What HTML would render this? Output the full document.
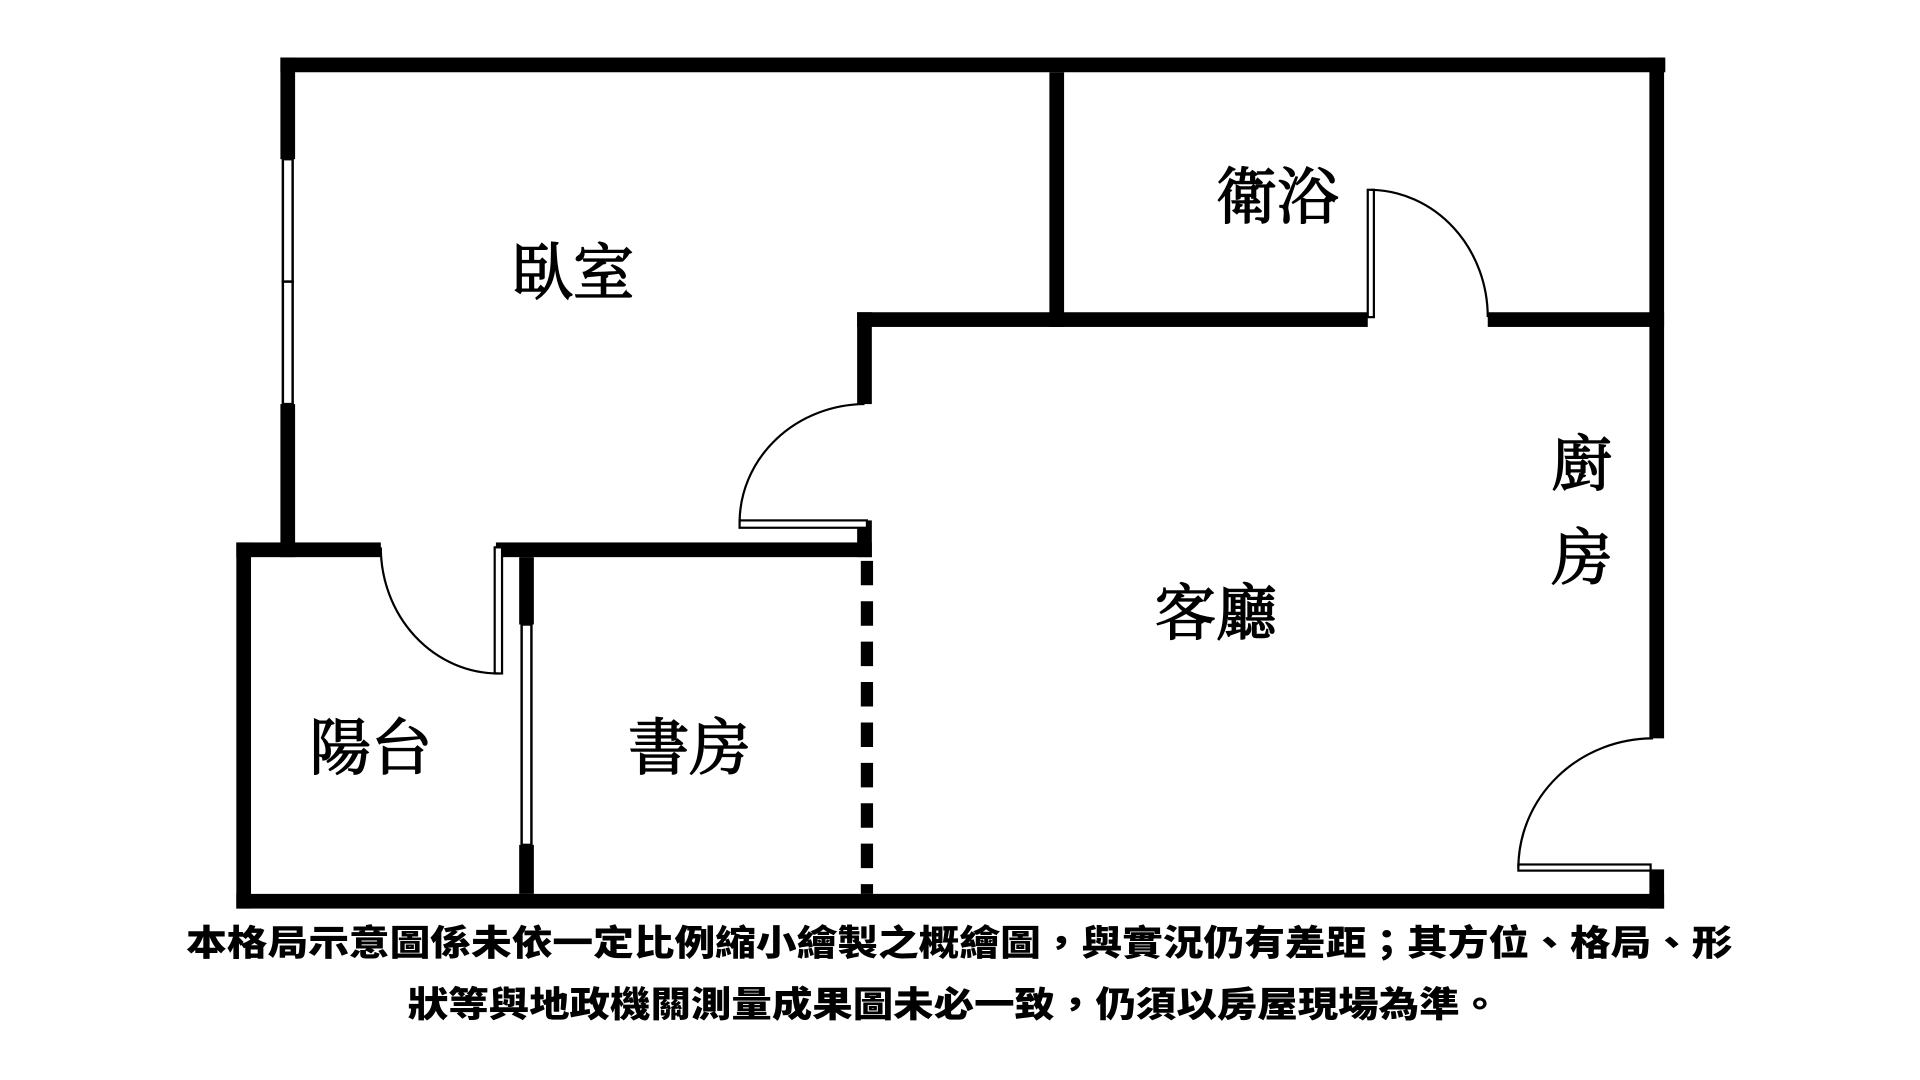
<!DOCTYPE html>
<html><head><meta charset="utf-8">
<style>
html,body{margin:0;padding:0;background:#fff;width:1920px;height:1080px;overflow:hidden}
svg{display:block}
.lbl{font-family:"Liberation Serif","Noto Serif CJK SC","Noto Serif CJK TC",serif;font-size:50px;fill:#000;stroke:#000;stroke-width:1.2;text-anchor:middle}
.cap{font-family:"Liberation Sans","Noto Sans CJK TC",sans-serif;font-weight:900;font-size:29px;fill:#000}
</style></head>
<body>
<svg width="1920" height="1080" viewBox="0 0 1568 882" xmlns="http://www.w3.org/2000/svg">
<g fill="#000">
<rect x="229" y="47" width="1131" height="12"/>
<rect x="229" y="47" width="12" height="83"/>
<rect x="229" y="330" width="12" height="125"/>
<rect x="1347" y="47" width="12" height="556"/>
<rect x="1347" y="710" width="12" height="32"/>
<rect x="857" y="59" width="12" height="208"/>
<rect x="700" y="255" width="417" height="12"/>
<rect x="1215" y="255" width="144" height="12"/>
<rect x="700" y="255" width="12" height="75"/>
<rect x="700" y="425" width="12" height="30"/>
<rect x="193" y="443" width="118" height="12"/>
<rect x="405" y="443" width="307" height="12"/>
<rect x="193" y="443" width="12" height="299"/>
<rect x="193" y="730" width="1166" height="12"/>
<rect x="424" y="455" width="12" height="55"/>
<rect x="424" y="690" width="12" height="40"/>
</g>
<g fill="#fff" stroke="#000" stroke-width="2">
<rect x="231" y="130" width="8" height="100"/>
<rect x="231" y="230" width="8" height="100"/>
<rect x="426" y="510" width="8" height="180"/>
</g>
<line x1="708" y1="458" x2="708" y2="730" stroke="#000" stroke-width="10" stroke-dasharray="20,13"/>
<g fill="none" stroke="#000" stroke-width="1.8">
<rect x="1117" y="155" width="5" height="104" fill="#fff"/>
<path d="M1120 155 A97 104 0 0 1 1215 259"/>
<rect x="604" y="425" width="104" height="6" fill="#fff"/>
<path d="M706 330 A103 97 0 0 0 604 427"/>
<rect x="404" y="447" width="6" height="103" fill="#fff"/>
<path d="M311 447 A96 103 0 0 0 407 550"/>
<rect x="1240" y="706" width="108" height="5" fill="#fff"/>
<path d="M1350 603 A110 106 0 0 0 1240 709"/>
</g>
<text class="lbl" x="468" y="240">臥室</text>
<text class="lbl" x="1043" y="178">衛浴</text>
<text class="lbl" x="993" y="518">客廳</text>
<text class="lbl" x="1292" y="396">廚</text>
<text class="lbl" x="1292" y="473">房</text>
<text class="lbl" x="303" y="628">陽台</text>
<text class="lbl" x="563" y="628">書房</text>
<text class="cap" x="152" y="780" textLength="1263" lengthAdjust="spacingAndGlyphs">本格局示意圖係未依一定比例縮小繪製之概繪圖，與實況仍有差距；其方位、格局、形</text>
<text class="cap" x="333" y="830" textLength="892" lengthAdjust="spacingAndGlyphs">狀等與地政機關測量成果圖未必一致，仍須以房屋現場為準。</text>
</svg>
</body></html>
